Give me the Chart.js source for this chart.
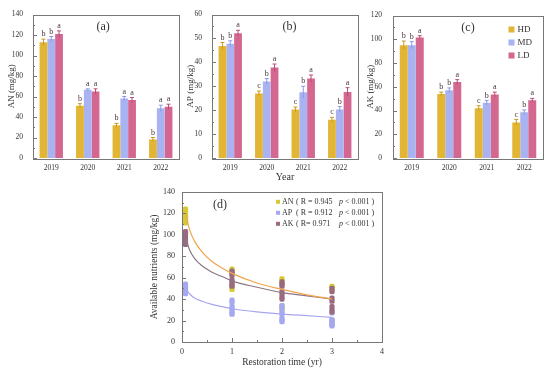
<!DOCTYPE html>
<html>
<head>
<meta charset="utf-8">
<script src="https://cdn.jsdelivr.net/npm/chart.js@4.4.0/dist/chart.umd.min.js"></script>
<style>
  body { margin: 0; background: #fff; width: 550px; height: 371px; position: relative; overflow: hidden; }
  canvas { position: absolute; }
</style>
</head>
<body>
<canvas id="chartA" width="185" height="185" style="left:0;top:0"></canvas>
<canvas id="chartB" width="178" height="185" style="left:185px;top:0"></canvas>
<canvas id="chartC" width="187" height="185" style="left:363px;top:0"></canvas>
<canvas id="chartD" width="250" height="191" style="left:140px;top:180px"></canvas>
<script>
// Bar panels (a)-(c)
const years = ['2019', '2020', '2021', '2022'];

const anHD = [113, 51, 32, 18];
const anMD = [116, 66.5, 58, 48.5];
const anLD = [121, 65, 56.5, 50];
const anHDErr = [3, 2, 1.8, 2];
const anMDErr = [2.5, 1, 2, 3];
const anLDErr = [3, 2.5, 2.5, 2.5];
const anHDLetters = ['b', 'b', 'b', 'b'];
const anMDLetters = ['b', 'a', 'a', 'a'];
const anLDLetters = ['a', 'a', 'a', 'a'];

const apHD = [46.8, 27, 20.3, 16];
const apMD = [47.8, 32, 27.5, 20.3];
const apLD = [52.2, 37.8, 33.2, 27.6];
const apHDErr = [1.5, 1, 1, 1];
const apMDErr = [1.2, 1.2, 2.5, 1.2];
const apLDErr = [1.2, 1.5, 1.5, 1.8];
const apHDLetters = ['b', 'c', 'c', 'c'];
const apMDLetters = ['b', 'b', 'b', 'b'];
const apLDLetters = ['a', 'a', 'a', 'a'];

const akHD = [95, 54, 42, 30];
const akMD = [95, 57, 46.5, 38.5];
const akLD = [101.5, 64, 53.5, 48.7];
const akHDErr = [3.5, 1.5, 2, 2.5];
const akMDErr = [3, 2, 2, 2];
const akLDErr = [1.5, 2, 2, 1.5];
const akHDLetters = ['b', 'b', 'c', 'c'];
const akMDLetters = ['b', 'b', 'b', 'b'];
const akLDLetters = ['a', 'a', 'a', 'a'];

// Panel (d): scatter per restoration time + fitted curves
const restTimes = [0.07, 1, 2, 3];
const anPoints = [[111, 113, 115, 116, 118, 120, 122, 124], [49, 51, 53, 64, 66, 68], [30, 32, 34, 55, 57, 59], [16, 18, 20, 48, 50, 52]];
const apPoints = [[45, 47, 48, 50, 52, 54], [26, 27, 29, 31, 33, 37, 39], [19, 20, 22, 26, 28, 32, 34], [15, 16, 17, 19, 20, 21, 27]];
const akPoints = [[91, 93, 95, 97, 99, 101, 103], [52, 54, 56, 58, 62, 64, 66], [40, 42, 45, 47, 52, 54, 56], [28, 30, 33, 38, 41, 47, 50]];

const fitTimes = [0.08, 0.15, 0.25, 0.4, 0.6, 0.8, 1, 1.5, 2, 2.5, 3];
const anFit = [119, 105, 94, 84, 75, 69, 64, 55, 49, 44, 40];
const apFit = [49, 45, 41, 38, 35, 33, 31, 28, 26, 24.5, 23];
const akFit = [96, 86, 78, 71, 65, 61, 57, 51, 46, 43, 40];

const SERIF = "'Liberation Serif', 'DejaVu Serif', serif";
const TEXT = '#333';
const HD_COLOR = '#e2b634', MD_COLOR = '#a9b3f2', LD_COLOR = '#d4678f';
const HD_ERR = '#c99a1c', MD_ERR = '#8c98e6', LD_ERR = '#b94c78';

// frame + inner ticks
const framePlugin = {
  id: 'frame',
  afterDraw(chart) {
    const { ctx, chartArea: a, scales } = chart;
    ctx.save();
    ctx.strokeStyle = '#777';
    ctx.lineWidth = 1;
    ctx.strokeRect(Math.round(a.left) + 0.5, Math.round(a.top) + 0.5, Math.round(a.width), Math.round(a.height));
    ctx.beginPath();
    const y = scales.y;
    const ys = y.options.ticks.stepSize / 2;
    for (let k = 0; y.min + k * ys <= y.max + 1e-9; k++) {
      const py = Math.round(y.getPixelForValue(y.min + k * ys)) + 0.5;
      const len = k % 2 === 0 ? 4 : 2;
      ctx.moveTo(a.left, py); ctx.lineTo(a.left + len, py);
    }
    const x = scales.x;
    if (x.type === 'linear') {
      const xs = x.options.ticks.stepSize / 2;
      for (let k = 0; x.min + k * xs <= x.max + 1e-9; k++) {
        const px = Math.round(x.getPixelForValue(x.min + k * xs)) + 0.5;
        const len = k % 2 === 0 ? 4 : 2;
        ctx.moveTo(px, a.bottom); ctx.lineTo(px, a.bottom - len);
      }
    }
    ctx.stroke();
    ctx.restore();
  }
};

// error bars and significance letters
const errorPlugin = {
  id: 'errors',
  afterDatasetsDraw(chart) {
    const { ctx, scales } = chart;
    ctx.save();
    ctx.font = '8px ' + SERIF;
    ctx.textAlign = 'center';
    ctx.textBaseline = 'bottom';
    chart.data.datasets.forEach((ds, i) => {
      chart.getDatasetMeta(i).data.forEach((bar, j) => {
        const yt = scales.y.getPixelForValue(ds.data[j] + ds.err[j]);
        const yb = scales.y.getPixelForValue(ds.data[j] - ds.err[j]);
        ctx.strokeStyle = ds.errColor;
        ctx.lineWidth = 1;
        ctx.beginPath();
        ctx.moveTo(bar.x, yt); ctx.lineTo(bar.x, yb);
        ctx.moveTo(bar.x - 2, yt); ctx.lineTo(bar.x + 2, yt);
        ctx.stroke();
        ctx.fillStyle = '#4a3438';
        ctx.fillText(ds.letters[j], bar.x, yt - 1);
      });
    });
    ctx.restore();
  }
};

const panelLabelPlugin = {
  id: 'panelLabel',
  afterDraw(chart, args, opts) {
    const { ctx, chartArea: a } = chart;
    ctx.save();
    ctx.font = '12px ' + SERIF;
    ctx.fillStyle = TEXT;
    ctx.textAlign = 'center';
    ctx.textBaseline = 'middle';
    ctx.fillText(opts.text, a.left + opts.fx * a.width, a.top + opts.dy);
    ctx.restore();
  }
};

const barLegendPlugin = {
  id: 'barLegend',
  afterDraw(chart, args, opts) {
    if (!opts.show) return;
    const { ctx, chartArea: a } = chart;
    ctx.save();
    ctx.font = '9px ' + SERIF;
    ctx.textBaseline = 'middle';
    const x0 = a.left + 0.79 * a.width;
    chart.data.datasets.forEach((ds, i) => {
      const yy = a.top + 14 + i * 13;
      ctx.fillStyle = ds.backgroundColor;
      ctx.fillRect(x0 - 3, yy - 3, 6, 6);
      ctx.fillStyle = TEXT;
      ctx.fillText(ds.label, x0 + 6, yy);
    });
    ctx.restore();
  }
};

function barPanel(id, cfg) {
  const sets = [
    { label: 'HD', data: cfg.hd, err: cfg.hdErr, letters: cfg.hdL, backgroundColor: HD_COLOR, errColor: HD_ERR },
    { label: 'MD', data: cfg.md, err: cfg.mdErr, letters: cfg.mdL, backgroundColor: MD_COLOR, errColor: MD_ERR },
    { label: 'LD', data: cfg.ld, err: cfg.ldErr, letters: cfg.ldL, backgroundColor: LD_COLOR, errColor: LD_ERR }
  ];
  return new Chart(document.getElementById(id), {
    type: 'bar',
    data: {
      labels: years,
      datasets: sets.map(s => Object.assign(s, { barPercentage: 1, categoryPercentage: 0.64, borderWidth: 0 }))
    },
    options: {
      responsive: false,
      animation: false,
      layout: { padding: { top: 11, right: cfg.right, left: 0, bottom: 0 } },
      plugins: {
        legend: { display: false },
        tooltip: { enabled: false },
        panelLabel: { text: cfg.label, fx: cfg.fx, dy: 12 },
        barLegend: { show: !!cfg.legend }
      },
      scales: {
        x: {
          grid: { display: false, drawTicks: false },
          border: { display: false },
          ticks: { font: { family: SERIF, size: 7.5 }, color: TEXT, padding: 6 },
          title: { display: !!cfg.xTitle, text: cfg.xTitle || '', font: { family: SERIF, size: 10 }, color: TEXT, padding: { top: 0, bottom: 2 } },
          afterFit: s => { s.height = 27; }
        },
        y: {
          min: 0, max: cfg.max,
          grid: { display: false, drawTicks: false },
          border: { display: false },
          ticks: { stepSize: cfg.step, font: { family: SERIF, size: 7.5 }, color: TEXT, padding: cfg.tickPad },
          title: { display: true, text: cfg.yTitle, font: { family: SERIF, size: 9 }, color: TEXT, padding: { top: cfg.titlePad, bottom: 0 } },
          afterFit: s => { s.width = cfg.yw; }
        }
      }
    },
    plugins: [framePlugin, errorPlugin, panelLabelPlugin, barLegendPlugin]
  });
}

barPanel('chartA', {
  hd: anHD, md: anMD, ld: anLD, hdErr: anHDErr, mdErr: anMDErr, ldErr: anLDErr,
  hdL: anHDLetters, mdL: anMDLetters, ldL: anLDLetters,
  max: 140, step: 20, yTitle: 'AN (mg/kg)', yw: 33, right: 6, tickPad: 10, titlePad: 6, label: '(a)', fx: 0.48
});
barPanel('chartB', {
  hd: apHD, md: apMD, ld: apLD, hdErr: apHDErr, mdErr: apMDErr, ldErr: apLDErr,
  hdL: apHDLetters, mdL: apMDLetters, ldL: apLDLetters,
  max: 60, step: 10, yTitle: 'AP (mg/kg)', yw: 27, right: 5, tickPad: 10, titlePad: 0, label: '(b)', fx: 0.53, xTitle: 'Year'
});
barPanel('chartC', {
  hd: akHD, md: akMD, ld: akLD, hdErr: akHDErr, mdErr: akMDErr, ldErr: akLDErr,
  hdL: akHDLetters, mdL: akMDLetters, ldL: akLDLetters,
  max: 120, step: 20, yTitle: 'AK (mg/kg)', yw: 30, right: 7, tickPad: 11, titlePad: 2, label: '(c)', fx: 0.5, legend: true
});

// Panel (d)
const AN_PT = '#d6ca34', AP_PT = '#a6a9f0', AK_PT = '#9a6a80';
const AN_LINE = '#f1a54c', AP_LINE = '#a9a6ee', AK_LINE = '#8c7686';

function toPoints(groups) {
  const out = [];
  groups.forEach((vals, i) => vals.forEach(v => out.push({ x: restTimes[i], y: v })));
  return out;
}
function toCurve(vals) {
  return fitTimes.map((t, i) => ({ x: t, y: vals[i] }));
}

const legendD = {
  id: 'legendD',
  afterDraw(chart) {
    const { ctx, chartArea: a } = chart;
    const rows = [
      { name: 'AN', stat: '( R = 0.945', color: AN_PT },
      { name: 'AP', stat: '( R = 0.912', color: AP_PT },
      { name: 'AK', stat: '( R= 0.971', color: AK_PT }
    ];
    ctx.save();
    ctx.textBaseline = 'middle';
    rows.forEach((r, i) => {
      const yy = a.top + 10 + i * 11;
      const x0 = a.left + 96;
      ctx.fillStyle = r.color;
      ctx.fillRect(x0 - 2, yy - 2, 4, 4);
      ctx.fillStyle = TEXT;
      ctx.font = '8px ' + SERIF;
      ctx.fillText(r.name, x0 + 4, yy);
      ctx.fillText(r.stat, x0 + 18, yy);
      ctx.font = 'italic 8px ' + SERIF;
      ctx.fillText('p', x0 + 61, yy);
      ctx.font = '8px ' + SERIF;
      ctx.fillText('< 0.001 )', x0 + 67, yy);
    });
    ctx.restore();
  }
};

new Chart(document.getElementById('chartD'), {
  type: 'scatter',
  data: {
    datasets: [
      { label: 'AN fit', data: toCurve(anFit), showLine: true, borderColor: AN_LINE, borderWidth: 1.2, pointRadius: 0, cubicInterpolationMode: 'monotone', order: 0 },
      { label: 'AP fit', data: toCurve(apFit), showLine: true, borderColor: AP_LINE, borderWidth: 1.2, pointRadius: 0, cubicInterpolationMode: 'monotone', order: 0 },
      { label: 'AK fit', data: toCurve(akFit), showLine: true, borderColor: AK_LINE, borderWidth: 1.2, pointRadius: 0, cubicInterpolationMode: 'monotone', order: 0 },
      { label: 'AN', data: toPoints(anPoints), backgroundColor: AN_PT, borderWidth: 0, pointStyle: 'rectRounded', pointRadius: 3, order: 3 },
      { label: 'AP', data: toPoints(apPoints), backgroundColor: AP_PT, borderWidth: 0, pointStyle: 'rectRounded', pointRadius: 3, order: 2 },
      { label: 'AK', data: toPoints(akPoints), backgroundColor: AK_PT, borderWidth: 0, pointStyle: 'rectRounded', pointRadius: 3, order: 1 }
    ]
  },
  options: {
    responsive: false,
    animation: false,
    layout: { padding: { top: 10, right: 8, left: 0, bottom: 0 } },
    plugins: {
      legend: { display: false },
      tooltip: { enabled: false },
      panelLabel: { text: '(d)', fx: 0.19, dy: 13 }
    },
    scales: {
      x: {
        type: 'linear', min: 0, max: 4,
        grid: { display: false, drawTicks: false },
        border: { display: false },
        ticks: { stepSize: 1, font: { family: SERIF, size: 8 }, color: TEXT, padding: 5 },
        title: { display: true, text: 'Restoration time (yr)', font: { family: SERIF, size: 9.5 }, color: TEXT, padding: { top: 0, bottom: 3 } },
        afterFit: s => { s.height = 29; }
      },
      y: {
        min: 0, max: 140,
        grid: { display: false, drawTicks: false },
        border: { display: false },
        ticks: { stepSize: 20, font: { family: SERIF, size: 8 }, color: TEXT, padding: 7 },
        title: { display: true, text: 'Available nutrients (mg/kg)', font: { family: SERIF, size: 9.5 }, color: TEXT, padding: { top: 9, bottom: 0 } },
        afterFit: s => { s.width = 42; }
      }
    }
  },
  plugins: [framePlugin, panelLabelPlugin, legendD]
});
</script>
</body>
</html>
